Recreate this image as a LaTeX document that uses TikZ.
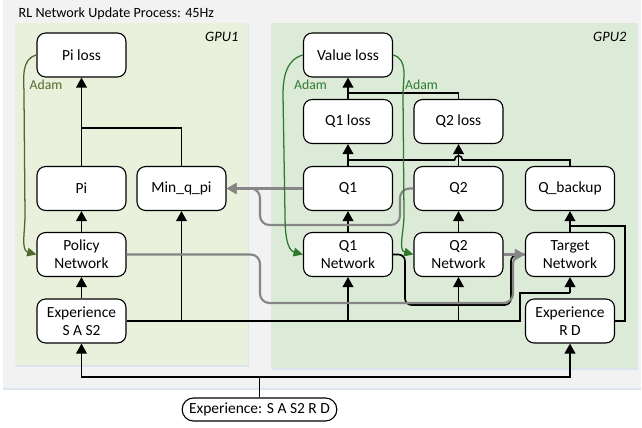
\documentclass[tikz,border=0pt]{standalone}
\usepackage{fontspec}
\setmainfont{Carlito}
\usetikzlibrary{arrows.meta}
\definecolor{outerbg}{HTML}{F2F2F2}
\definecolor{gpuone}{HTML}{E9F0DB}
\definecolor{gputwo}{HTML}{DCEBD8}
\definecolor{shadowc}{HTML}{DCE4EE}
\definecolor{olivec}{HTML}{4F6A2C}
\definecolor{greenc}{HTML}{2F7A30}
\definecolor{grayc}{HTML}{868686}
\tikzset{
  box/.style={draw, fill=white, rounded corners=6.5pt, minimum width=66.75pt, minimum height=33pt,
    align=center, line width=0.85pt, inner sep=0pt, font=\fontsize{11.6}{13.5}\selectfont},
  blk/.style={line width=1.25pt},
  arr/.style={blk, -{Triangle[width=8pt,length=7.5pt]}},
  garr/.style={line width=1.6pt, grayc, rounded corners=7pt, -{Triangle[width=8pt,length=7.5pt]}},
  oarr/.style={line width=0.95pt, olivec, -{Triangle[width=6.5pt,length=7pt]}},
  grarr/.style={line width=0.95pt, greenc, -{Triangle[width=6.5pt,length=7pt]}},
  adam/.style={font=\fontsize{10.3}{12}\selectfont},
  gpulbl/.style={font=\fontsize{10.8}{12}\selectfont\itshape, anchor=east},
}
\begin{document}
\begin{tikzpicture}[x=0.75pt,y=-0.75pt]
\useasboundingbox (0,0) rectangle (642,428);
% backgrounds
\fill[shadowc] (3,2) rectangle (641,390);
\fill[outerbg] (3,0) rectangle (641,388);
\fill[shadowc] (16,24) rectangle (249,367);
\fill[gpuone] (15,23) rectangle (248,365);
\fill[shadowc] (272,24) rectangle (638,370);
\fill[gputwo] (271,23) rectangle (637,368);
\node[anchor=west, font=\fontsize{10.6}{12}\selectfont] (title) at (14,14) {RL Network Update Process: 45Hz};
\node[gpulbl] (g1) at (243,37) {GPU1};
\node[gpulbl] (g2) at (631,37) {GPU2};

% nodes
\node[box] (piloss) at (81.5,55) {Pi loss};
\node[box] (pi) at (81.5,188.5) {Pi};
\node[box] (minq) at (181.5,188.5) {Min\_q\_pi};
\node[box] (policy) at (81.5,254.5) {Policy\\Network};
\node[box] (expa) at (81.5,321) {Experience\\S A S2};
\node[box] (vloss) at (348,55) {Value loss};
\node[box] (q1loss) at (348,121.5) {Q1 loss};
\node[box] (q2loss) at (458.5,121.5) {Q2 loss};
\node[box] (q1) at (348,188.5) {Q1};
\node[box] (q2) at (458.5,188.5) {Q2};
\node[box] (qb) at (570,188.5) {Q\_backup};
\node[box] (q1n) at (348,254.5) {Q1\\Network};
\node[box] (q2n) at (458.5,254.5) {Q2\\Network};
\node[box] (tn) at (570,254.5) {Target\\Network};
\node[box] (exprd) at (570,321) {Experience\\R D};
\node[box, rounded corners=8.5pt, minimum width=116pt, minimum height=17.25pt] (exp) at (259.5,409.5) {Experience: S A S2 R D};

% black connectors
\coordinate (j1) at (259.5,377);
\draw[blk] (exp.north) -- (j1);
\draw[arr] (j1) -| (expa.south);
\draw[arr] (j1) -| (exprd.south);
\draw[arr] (expa) -- (policy);
\draw[arr] (policy) -- (pi);
\draw[arr] (pi) -- (piloss);
\coordinate (j2) at (81.5,128);
\draw[blk] (minq.north) |- (j2);
\coordinate (e1) at (520,321);
\coordinate (e2) at (520,293);
\coordinate (e3) at (570,293);
\draw[blk] (expa.east) -- (e1) -- (e2) -- (e3);
\draw[arr] (e3) -- (tn.south);
\draw[arr] (minq.south |- expa.east) -- (minq.south);
\draw[arr] (q1n.south |- expa.east) -- (q1n.south);
\draw[arr] (q2n.south |- expa.east) -- (q2n.south);
\coordinate (r1) at (625,321);
\coordinate (r2) at (625,226);
\coordinate (r3) at (570,226);
\draw[blk] (exprd.east) -- (r1) -- (r2) -- (r3);
\draw[arr] (tn) -- (qb);
\draw[arr] (q1n) -- (q1);
\draw[arr] (q2n) -- (q2);
\draw[arr] (q1) -- (q1loss);
\draw[arr] (q2) -- (q2loss);
\coordinate (h0) at (570,160);
\coordinate (h1) at (462.5,160);
\coordinate (h2) at (454.5,160);
\coordinate (h3) at (348,160);
\draw[blk] (qb.north) -- (h0) -- (h1) .. controls (462.5,154.5) and (454.5,154.5) .. (h2) -- (h3);
\draw[arr] (q1loss) -- (vloss);
\coordinate (j3) at (348,93);
\draw[blk] (q2loss.north) |- (j3);
\coordinate (k1) at (405,254.5);
\coordinate (k2) at (405,305);
\coordinate (k3) at (511,305);
\coordinate (k4) at (511,254.5);
\draw[blk, rounded corners=5pt] (q1n.east) -- (k1) -- (k2) -- (k3) -- (k4) -- (tn.west);

% gray connectors
\draw[garr] (q1.west) -- (minq.east);
\coordinate (m1) at (400,188.5);
\coordinate (m2) at (400,225);
\coordinate (m3) at (260,225);
\coordinate (m4) at (260,188.5);
\draw[garr] (q2.west) -- (m1) -- (m2) -- (m3) -- (m4) -- (minq.east);
\coordinate (p1) at (260,254.5);
\coordinate (p2) at (260,303);
\coordinate (p3) at (513,303);
\coordinate (p4) at (513,254.5);
\draw[garr] (policy.east) -- (p1) -- (p2) -- (p3) -- (p4) -- (tn.west);
\draw[garr] (q2n.east) -- (tn.west);

% Adam (green) connectors
\coordinate (a1) at (24,95);
\coordinate (a2) at (25,215);
\draw[oarr] (piloss.west) to[out=195,in=90] (a1) -- (a2) to[out=270,in=165] (policy.west);
\coordinate (b1) at (283,95);
\coordinate (b2) at (285,215);
\draw[grarr] (vloss.west) to[out=195,in=90] (b1) -- (b2) to[out=270,in=165] (q1n.west);
\coordinate (c1) at (403,95);
\coordinate (c2) at (404,215);
\draw[grarr] (vloss.east) to[out=-15,in=90] (c1) -- (c2) to[out=270,in=165] (q2n.west);
\node[adam, text=olivec] (ad1) at (46,85) {Adam};
\node[adam, text=greenc] (ad2) at (310.5,85) {Adam};
\node[adam, text=greenc] (ad3) at (421.5,85) {Adam};
\end{tikzpicture}
\end{document}
